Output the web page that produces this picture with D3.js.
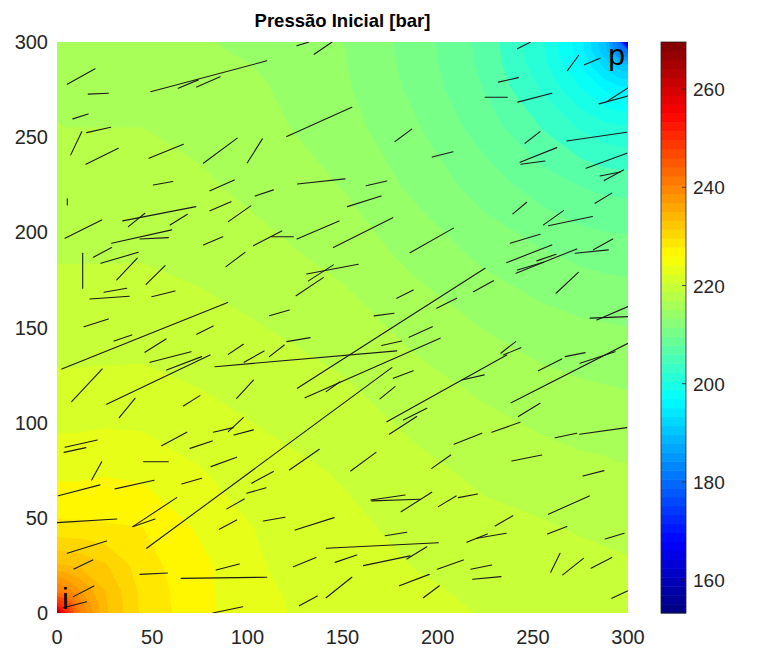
<!DOCTYPE html>
<html><head><meta charset="utf-8">
<script src="https://cdn.jsdelivr.net/npm/d3@7"></script>
<style>body{margin:0;background:#fff;} text{font-family:"Liberation Sans",Arial,sans-serif;}</style>
</head><body><svg id="c" width="761" height="650"></svg>
<script>
// grid node positions (same for x and y), data units
const gridNodes = [0,5,12,25,45,75,110,150,190,225,255,275,288,295,300];
// pressure [bar]; row k = y node k, columns = x nodes
const pressureRows = [
[269.6,250,241,233.5,228.5,225.6,223.3,222.2,221.5,220.9,220.7,220.4,220.2,220.1,220.0],
[250,247,240,233.3,228.4,225.5,223.3,222.1,221.4,220.8,220.5,220.3,220.1,220.0,219.9],
[241,240,237,233,228.3,225.5,223.2,222.0,221.3,220.6,220.3,220.0,219.8,219.7,219.7],
[233.2,233.0,232.7,231.3,227.8,225.5,223.0,221.8,220.9,220.3,219.9,219.6,219.4,219.3,219.2],
[227.5,227.4,227.4,227.2,227.0,224.7,222.6,221.5,220.4,219.6,219.2,218.8,218.6,218.5,218.4],
[224.4,224.4,224.4,224.7,224.4,223.1,221.7,220.8,219.5,218.5,217.9,217.5,217.4,217.2,217.2],
[221.9,221.9,221.9,222.0,222.0,221.3,220.5,219.6,218.1,217.0,216.2,215.8,215.6,215.5,215.4],
[220.0,220.0,220.0,220.0,220.1,219.8,219.0,218.0,216.3,214.9,213.9,213.4,213.2,213.1,213.0],
[218.8,218.8,218.8,218.8,218.8,218.3,217.5,216.3,214.2,212.4,211.1,210.4,210.1,210.0,210.0],
[217.9,217.9,217.9,217.9,217.8,217.3,216.3,214.9,212.4,210.0,208.0,206.9,206.4,206.3,206.2],
[217.1,217.0,217.0,217.0,217.0,216.5,215.5,213.9,211.1,208.0,204.9,202.8,201.7,201.4,201.3],
[216.5,216.5,216.4,216.4,216.5,215.9,215.1,213.4,210.4,206.9,202.8,199.2,196.8,196.0,195.8],
[216.0,216.0,215.9,216.0,216.1,215.7,214.8,213.2,210.1,206.4,201.7,196.8,192.2,189.7,189.0],
[215.5,215.5,215.5,215.6,215.8,215.3,214.6,213.1,210.0,206.3,201.4,196.0,189.7,184.1,180.9],
[215.0,215.0,215.1,215.2,215.4,215.2,214.4,213.0,210.0,206.2,201.3,195.8,189.0,180.9,153.3]
];
// fracture segments [x1,y1,x2,y2] in data units
const fractures = [
[5.4,277.8,20.0,285.9],[16.4,272.6,27.0,273.1],[49.2,273.9,110.2,290.1],[63.7,275.7,74.3,280.1],
[73.4,276.3,85.7,281.8],[8.3,259.6,16.4,262.2],[15.6,252.4,28.2,255.2],[7.2,240.7,13.0,252.9],
[15.2,235.8,32.2,244.2],[48.3,238.9,66.4,246.3],[76.9,236.3,94.7,249.5],[100.0,236.6,107.9,249.1],
[50.6,224.9,60.8,226.7],[80.4,221.8,93.2,227.5],[5.4,214.4,5.4,217.6],[34.5,206.0,73.0,213.5],
[37.5,203.0,46.2,210.0],[59.4,203.9,68.5,209.5],[80.4,211.3,91.4,216.1],[90.0,205.6,101.8,213.9],
[4.2,196.9,23.5,206.5],[28.7,194.3,60.3,201.3],[43.6,196.5,58.5,197.2],[126.0,298.0,132.1,299.9],
[135.1,293.6,144.4,299.9],[120.7,250.3,154.9,265.7],[177.6,247.7,186.4,254.2],[197.1,239.6,208.1,242.3],
[126.3,225.4,151.3,228.1],[162.4,224.5,173.3,227.0],[104.1,219.1,113.7,222.3],[152.6,213.5,170.3,219.1],
[126.1,196.5,148.2,206.0],[145.2,192.0,176.4,207.7],[103.2,193.0,118.1,200.7],[241.9,296.4,248.6,299.9],
[268.2,285.0,274.0,292.9],[277.1,288.0,285.3,291.5],[231.9,278.9,242.4,281.3],[224.9,271.0,236.6,271.0],
[242.1,268.4,260.0,273.1],[284.8,267.5,300,271.6],[288.9,268.7,300,275.9],[245.9,246.8,253.8,252.9],
[267.8,248.0,299.4,252.6],[243.3,236.8,262.6,244.5],[243.7,235.8,256.4,237.5],[278.0,233.7,299.4,241.6],
[287.5,227.2,297.6,232.8],[285.3,229.6,295.9,231.7],[282.7,215.3,291.5,220.6],[239.5,209.7,246.8,215.8],
[255.6,203.9,266.1,211.4],[258.2,203.5,281.3,208.3],[76.9,193.4,87.1,197.7],[19.1,186.9,28.7,192.0],
[23.0,183.8,42.7,189.5],[13.5,170.6,13.5,189.0],[31.4,175.0,42.2,186.4],[46.8,172.7,56.8,182.5],
[88.8,182.0,98.8,189.5],[24.7,168.5,36.6,170.6],[17.3,165.0,38.0,166.4],[49.8,166.2,62.0,169.2],
[2.5,128.2,89.7,163.1],[14.2,150.4,27.0,154.5],[30.0,142.9,39.3,146.1],[73.4,146.5,82.1,150.8],
[46.2,137.0,57.3,144.0],[48.9,131.7,70.4,137.3],[90.0,135.9,97.9,141.2],[26.1,109.7,80.4,135.6],
[57.6,127.7,76.0,134.7],[83.0,129.4,178.5,137.7],[7.7,111.0,23.8,128.2],[32.7,102.6,41.0,112.8],
[66.4,108.8,75.1,114.2],[94.4,112.8,103.2,122.4],[90.0,95.3,97.9,102.6],[112.8,197.7,124.2,197.7],
[185.5,189.3,208.3,202.2],[131.2,178.1,158.3,183.2],[132.1,174.5,145.2,182.9],[125.6,166.7,139.9,176.2],
[178.5,165.4,187.2,169.7],[111.6,156.2,122.1,159.2],[166.6,156.1,177.1,157.5],[120.7,142.6,133.0,144.7],
[98.3,131.7,108.8,137.7],[111.6,134.7,119.4,140.8],[126.3,118.1,224.9,181.1],[170.6,140.5,181.1,142.9],
[185.0,144.9,197.2,150.4],[130.3,113.1,201.3,144.4],[141.4,116.3,148.7,121.5],[176.7,123.3,187.2,127.3],
[169.7,112.5,177.6,118.9],[47.1,34.0,175.9,128.9],[173.3,100.5,236.3,135.6],[182.0,101.4,194.3,107.6],
[238.1,194.3,253.8,199.0],[236.3,184.1,260.0,193.4],[252.1,185.0,262.2,188.5],[241.2,178.5,273.1,191.3],
[241.9,180.2,255.6,184.3],[272.2,189.0,289.7,190.8],[281.8,190.8,292.0,196.5],[262.2,168.0,273.9,179.0],
[218.8,168.8,229.3,174.6],[199.5,160.1,210.0,165.4],[280.1,154.9,300,155.7],[283.6,154.0,300,161.0],
[233.2,136.5,241.0,142.6],[234.5,135.6,243.7,139.4],[212.7,122.4,224.5,125.1],[252.9,127.3,265.2,133.5],
[267.0,134.7,277.5,136.8],[238.6,110.5,300,141.7],[274.8,131.2,293.2,137.3],[242.4,103.2,253.8,110.2],
[4.2,87.1,21.2,90.9],[3.7,84.4,15.2,86.9],[55.0,87.9,68.2,95.0],[69.9,86.5,81.6,90.4],
[82.1,95.0,92.6,97.4],[93.0,93.5,103.2,96.2],[45.4,79.5,58.5,79.5],[80.9,76.9,94.4,81.8],
[18.2,69.9,23.5,79.5],[0.7,61.6,22.6,67.3],[30.5,65.2,51.0,69.7],[65.5,67.8,76.0,70.8],
[39.8,45.4,62.9,60.6],[40.1,45.4,51.5,49.4],[89.2,54.7,98.4,59.9],[85.3,44.0,94.4,48.9],
[0,47.5,31.4,49.4],[5.4,31.4,26.1,37.8],[8.9,23.1,18.8,27.9],[43.6,20.3,58.0,21.0],
[65.2,18.2,110.2,18.8],[83.6,22.6,95.8,25.7],[8.6,8.6,19.4,14.2],[3.3,2.8,15.6,5.9],
[81.8,0,97.6,3.3],[122.1,75.1,137.8,86.0],[154.3,74.6,167.6,84.4],[174.6,93.9,189.0,103.2],
[102.3,68.2,113.7,74.3],[99.7,62.9,109.8,65.8],[164.8,59.4,182.9,62.0],[165.4,58.9,190.8,59.8],
[180.8,53.2,196.9,63.4],[108.4,48.3,119.8,50.3],[125.1,43.6,145.6,50.1],[172.4,40.6,183.8,42.4],
[141.4,34.0,200.4,36.9],[124.2,24.3,136.1,29.1],[146.1,26.6,157.5,30.5],[161.0,24.9,185.5,30.0],
[183.8,28.4,194.3,34.8],[141.4,8.0,154.9,18.8],[179.9,14.3,195.6,20.3],[127.3,3.8,136.8,8.9],
[192.5,8.0,200.9,14.3],[208.6,88.7,223.2,94.4],[228.4,95.0,243.3,100.2],[261.7,92.1,273.1,94.4],
[274.5,93.9,299.4,97.4],[196.9,76.0,206.9,83.0],[238.9,79.9,254.7,83.0],[276.3,72.0,287.4,74.8],
[200.4,55.9,209.7,61.5],[210.9,60.6,220.9,62.5],[258.2,51.9,279.7,61.5],[230.2,45.7,239.5,51.1],
[215.3,37.2,226.1,41.5],[220.6,39.3,236.0,41.9],[257.7,41.5,267.9,45.4],[288.0,38.9,298.0,41.9],
[199.8,23.0,213.5,27.9],[217.4,23.0,228.4,25.2],[218.4,17.7,233.3,19.1],[259.4,21.4,264.3,31.4],
[265.7,20.0,276.6,28.7],[280.6,23.5,291.5,29.1],[291.5,7.7,299.7,11.6]
];
const xTicks = [0,50,100,150,200,250,300];
const yTicks = [0,50,100,150,200,250,300];
const cbTicks = [160,180,200,220,240,260];
const levels = d3.range(155, 270, 2);
const wells = [{name:"i", x:0, y:0}, {name:"p", x:300, y:300}];
const titleText = "Pressão Inicial [bar]";

const svg = d3.select("#c");
const x = d3.scaleLinear().domain([0,300]).range([57,628]);
const y = d3.scaleLinear().domain([0,300]).range([613,42]);
const n = gridNodes.length;
const idx = d3.scaleLinear().domain(d3.range(n)).range(gridNodes).clamp(true);
const values = pressureRows.flat();
const cmin = d3.min(values), cmax = d3.max(values);

function jet(t){
  const c = v => Math.max(0, Math.min(1, v));
  return d3.rgb(255*c(1.5-Math.abs(4*t-3)), 255*c(1.5-Math.abs(4*t-2)), 255*c(1.5-Math.abs(4*t-1)));
}
function cmap(v){
  let k = Math.floor((v-cmin)/(cmax-cmin)*64);
  k = Math.max(0, Math.min(63, k));
  return jet((k+0.5)/64);
}

const defs = svg.append("defs");
defs.append("clipPath").attr("id","plotclip").append("rect")
  .attr("x",x(0)).attr("y",y(300)).attr("width",x(300)-x(0)).attr("height",y(0)-y(300));

const plot = svg.append("g").attr("clip-path","url(#plotclip)");
plot.append("rect").attr("x",x(0)).attr("y",y(300)).attr("width",x(300)-x(0)).attr("height",y(0)-y(300))
  .attr("fill", cmap((cmin+levels[0])/2));

const proj = d3.geoTransform({point(gx, gy){ this.stream.point(x(idx(gx-0.5)), y(idx(gy-0.5))); }});
const path = d3.geoPath(proj);
const contours = d3.contours().size([n, n]).thresholds(levels)(values);
plot.selectAll("path.band").data(contours).join("path").attr("class","band")
  .attr("d", path).attr("fill", d => cmap(d.value+1)).attr("fill-rule","evenodd")
  .attr("stroke", d => cmap(d.value+1)).attr("stroke-width",0.3);

plot.selectAll("line.frac").data(fractures).join("line").attr("class","frac")
  .attr("x1", d=>x(d[0])).attr("y1", d=>y(d[1])).attr("x2", d=>x(d[2])).attr("y2", d=>y(d[3]))
  .attr("stroke","#1b1b1b").attr("stroke-width",1.1).attr("stroke-linecap","round");

// well labels
svg.append("text").attr("x", x(wells[0].x)+5).attr("y", y(wells[0].y)-4)
  .attr("font-size",30).attr("fill","#000").text(wells[0].name);
svg.append("text").attr("x", x(wells[1].x)-3).attr("y", y(wells[1].y)+23)
  .attr("font-size",30).attr("fill","#000").attr("text-anchor","end").text(wells[1].name);

// axes tick labels
svg.selectAll("text.xt").data(xTicks).join("text").attr("class","xt")
  .attr("x", d=>x(d)).attr("y", 644).attr("text-anchor","middle")
  .attr("font-size",20).attr("fill","#262626").text(d=>d);
svg.selectAll("text.yt").data(yTicks).join("text").attr("class","yt")
  .attr("x", 48).attr("y", d=>y(d)+7).attr("text-anchor","end")
  .attr("font-size",20).attr("fill","#262626").text(d=>d);

// title
svg.append("text").attr("x",(x(0)+x(300))/2).attr("y",27).attr("text-anchor","middle")
  .attr("font-size",18.5).attr("font-weight","bold").attr("fill","#000").text(titleText);

// colorbar
const cbX = 661, cbW = 25;
const cy = d3.scaleLinear().domain([cmin,cmax]).range([613,42]);
const steps = d3.range(64);
const stepH = (cmax-cmin)/64;
svg.selectAll("rect.cb").data(steps).join("rect").attr("class","cb")
  .attr("x",cbX).attr("width",cbW)
  .attr("y", k=>cy(cmin+(k+1)*stepH)).attr("height", k=>cy(cmin+k*stepH)-cy(cmin+(k+1)*stepH)+0.5)
  .attr("fill", k=>jet((k+0.5)/64));
svg.append("rect").attr("x",cbX).attr("y",cy(cmax)).attr("width",cbW).attr("height",cy(cmin)-cy(cmax))
  .attr("fill","none").attr("stroke","#262626").attr("stroke-width",0.8);
svg.selectAll("line.cbt").data(cbTicks).join("line").attr("class","cbt")
  .attr("x1",cbX+cbW-4).attr("x2",cbX+cbW).attr("y1",d=>cy(d)).attr("y2",d=>cy(d))
  .attr("stroke","#262626").attr("stroke-width",0.8);
svg.selectAll("text.cbl").data(cbTicks).join("text").attr("class","cbl")
  .attr("x",cbX+cbW+7).attr("y",d=>cy(d)+7).attr("font-size",19).attr("fill","#262626").text(d=>d);
</script>
</body></html>
